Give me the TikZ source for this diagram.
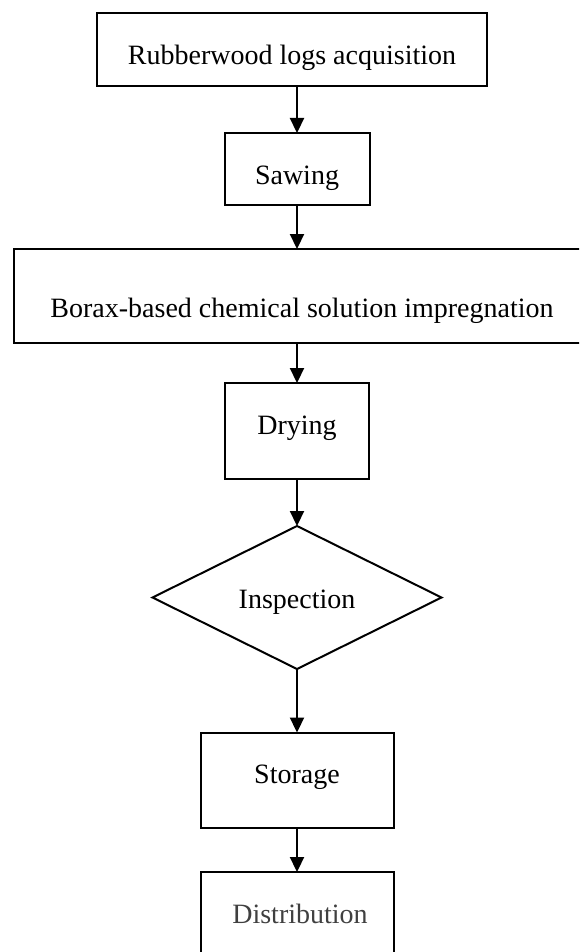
\documentclass[tikz,border=0pt]{standalone}
\usepackage{fontspec}
\setmainfont{Liberation Serif}
\usetikzlibrary{arrows.meta,shapes.geometric}
\definecolor{distgray}{HTML}{404040}
\begin{document}
\begin{tikzpicture}[x=1pt,y=-1pt,
  box/.style={draw=black,line width=2pt,rectangle,inner sep=0pt,outer sep=0pt},
  dia/.style={draw=black,line width=2pt,diamond,inner sep=0pt,outer sep=0pt},
  lbl/.style={anchor=base,inner sep=0pt,font=\fontsize{28}{30}\selectfont},
  flow/.style={line width=2.2pt,-{Triangle[length=15pt,width=14pt]}}]
\useasboundingbox (0,0) rectangle (579,952);
\clip (0,0) rectangle (579,952);
\node[box,minimum width=390pt,minimum height=73pt] (acq) at (292,49.5) {};
\node[lbl] (tacq) at (292,64.5) {Rubberwood logs acquisition};
\node[box,minimum width=145pt,minimum height=72pt] (saw) at (297,169) {};
\node[lbl] (tsaw) at (297,185) {Sawing};
\node[box,minimum width=570pt,minimum height=94pt] (bor) at (299,296) {};
\node[lbl] (tbor) at (302,317) {Borax-based chemical solution impregnation};
\node[box,minimum width=144pt,minimum height=96pt] (dry) at (297,431) {};
\node[lbl] (tdry) at (297,434.5) {Drying};
\node[dia,minimum width=289pt,minimum height=143pt] (ins) at (297,597.5) {};
\node[lbl] (tins) at (297,608) {Inspection};
\node[box,minimum width=193pt,minimum height=95pt] (sto) at (297,780) {};
\node[lbl] (tsto) at (297,783) {Storage};
\node[box,minimum width=193pt,minimum height=120pt] (dis) at (297,932) {};
\node[lbl,text=distgray] (tdis) at (300,923) {Distribution};
\draw[flow] (acq.south -| saw.north) -- (saw.north);
\draw[flow] (saw.south) -- (saw.south |- bor.north);
\draw[flow] (bor.south -| dry.north) -- (dry.north);
\draw[flow] (dry.south) -- (ins.north);
\draw[flow] (ins.south) -- (sto.north);
\draw[flow] (sto.south) -- (dis.north);
\end{tikzpicture}
\end{document}
